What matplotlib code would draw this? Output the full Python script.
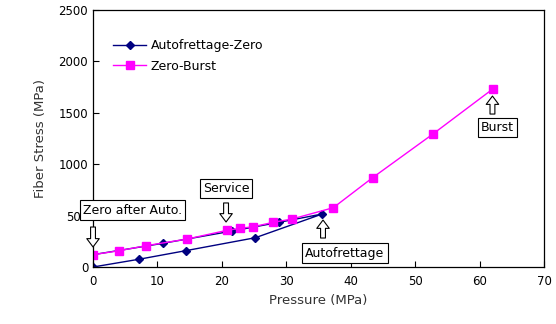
import matplotlib
matplotlib.use("Agg")
import matplotlib.pyplot as plt

# Autofrettage-Zero: loading up the lower path, unloading back along the upper path
af_pressure = [0, 7.1, 14.4, 25.2, 35.6, 28.9, 21.6, 10.8, 0]
af_stress = [0, 75, 159, 285, 516, 435, 350, 230, 120]

# Zero-Burst
zb_pressure = [0, 4.1, 8.2, 14.6, 20.8, 22.8, 24.9, 28.0, 30.9, 37.3, 43.4, 52.7, 62.1]
zb_stress = [120, 159, 207, 272, 357, 376, 392, 435, 467, 577, 869, 1291, 1734]

# label text, text position, arrow base, arrow tip (data coords)
notes = [
    ("Zero after Auto.", (6.1, 554), (0, 389), (0, 195)),
    ("Service", (20.65, 764), (20.65, 623), (20.65, 438)),
    ("Autofrettage", (39.1, 136), (35.7, 282), (35.7, 457)),
    ("Burst", (62.8, 1357), (62.0, 1488), (62.0, 1663)),
]

fig = plt.figure(figsize=(5.56, 3.24), dpi=100)
ax = fig.add_axes([0.1673, 0.1759, 0.8111, 0.7932])

ax.plot(af_pressure, af_stress, color="#000080", marker="D", markersize=4.5,
        linewidth=1.0, label="Autofrettage-Zero")
ax.plot(zb_pressure, zb_stress, color="#FF00FF", marker="s", markersize=5.5,
        linewidth=1.0, label="Zero-Burst")

for text, pos, base, tip in notes:
    ax.annotate("", xy=tip, xytext=base,
                arrowprops=dict(arrowstyle="simple,head_width=0.9,head_length=0.6,tail_width=0.35",
                                fc="white", ec="black", lw=0.8, shrinkA=0, shrinkB=0))
    ax.text(pos[0], pos[1], text, fontsize=9, ha="center", va="center",
            bbox=dict(boxstyle="square,pad=0.25", fc="white", ec="black", lw=0.8))

ax.set_xlim(0, 70)
ax.set_ylim(0, 2500)
ax.set_xticks(range(0, 71, 10))
ax.set_yticks(range(0, 2501, 500))
ax.tick_params(direction="in", labelsize=8.5, length=4, width=0.8, colors="black")
ax.tick_params(axis="x", pad=6)
for s in ax.spines.values():
    s.set_linewidth(0.9)

ax.set_xlabel("Pressure (MPa)", fontsize=9.5, color="#333333")
ax.set_ylabel("Fiber Stress (MPa)", fontsize=9.5, color="#333333", labelpad=8)

ax.legend(loc="upper left", bbox_to_anchor=(0.02, 0.93), frameon=False,
          fontsize=9, handlelength=2.6, handletextpad=0.4, labelspacing=0.6)

fig.savefig("out.png", dpi=100)
